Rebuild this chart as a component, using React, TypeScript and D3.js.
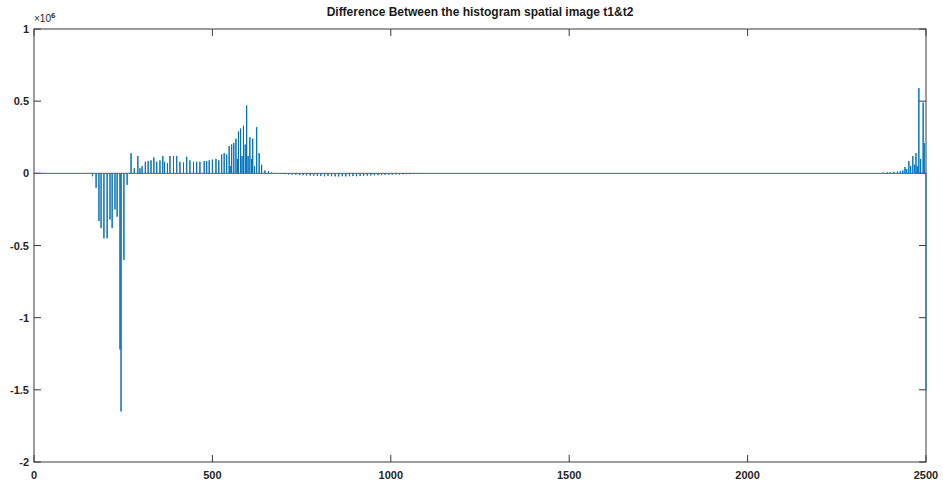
import React from "react";
import * as d3 from "d3";

const chartTitle = "Difference Between the histogram spatial image t1&t2";
const xTicks = [0, 500, 1000, 1500, 2000, 2500];
const xTickLabels = ["0", "500", "1000", "1500", "2000", "2500"];
const yTicks = [1, 0.5, 0, -0.5, -1, -1.5, -2];
const yTickLabels = ["1", "0.5", "0", "-0.5", "-1", "-1.5", "-2"];

// negative spikes in the low bins (values ×10^6)
const lowNegX = [164, 174, 182, 188, 196, 205, 213, 219, 227, 233, 241, 244, 252, 261];
const lowNegY = [-0.02, -0.1, -0.33, -0.38, -0.45, -0.45, -0.32, -0.38, -0.25, -0.3, -1.22, -1.65, -0.6, -0.08];

// positive spikes 270–670
const midPosX = [272, 281, 291, 297, 303, 312, 320, 328, 336, 344, 353, 361, 366, 374, 381, 391, 400, 409, 419, 428, 437, 447, 456, 465, 477, 484, 491, 500, 510, 518, 526, 533, 540, 547, 550, 554, 560, 566, 570, 573, 579, 583, 587, 592, 596, 600, 605, 610, 613, 618, 624, 631, 638, 647, 657, 666];
const midPosY = [0.14, 0.035, 0.12, 0.035, 0.05, 0.08, 0.085, 0.09, 0.11, 0.08, 0.09, 0.12, 0.08, 0.07, 0.12, 0.12, 0.12, 0.08, 0.075, 0.115, 0.09, 0.08, 0.08, 0.08, 0.085, 0.085, 0.09, 0.095, 0.1, 0.09, 0.13, 0.14, 0.13, 0.19, 0.05, 0.2, 0.21, 0.24, 0.1, 0.29, 0.31, 0.12, 0.33, 0.2, 0.47, 0.12, 0.25, 0.1, 0.24, 0.05, 0.32, 0.14, 0.06, 0.02, 0.015, 0.007];

// small negative spikes 690–1080
const dipX = [694, 704, 714, 724, 734, 744, 754, 764, 774, 784, 794, 804, 814, 824, 834, 844, 854, 864, 874, 884, 894, 904, 914, 924, 934, 944, 954, 964, 974, 984, 994, 1004, 1014, 1024, 1034, 1044, 1054, 1064, 1074, 1082];
const dipY = [-0.004, -0.006, -0.008, -0.009, -0.01, -0.012, -0.013, -0.014, -0.015, -0.016, -0.017, -0.018, -0.02, -0.018, -0.02, -0.021, -0.022, -0.02, -0.021, -0.02, -0.019, -0.02, -0.018, -0.017, -0.016, -0.015, -0.014, -0.013, -0.012, -0.011, -0.01, -0.009, -0.008, -0.008, -0.007, -0.006, -0.006, -0.005, -0.004, -0.004];

// spikes in the top bins
const highX = [2380, 2392, 2400, 2410, 2420, 2428, 2435, 2441, 2446, 2452, 2457, 2463, 2468, 2472, 2476, 2480, 2485, 2492, 2495, 2500];
const highY = [0.005, 0.007, 0.008, 0.01, 0.012, 0.015, 0.02, 0.044, 0.03, 0.085, 0.05, 0.12, 0.06, 0.14, 0.05, 0.59, 0.1, 0.49, 0.21, -1.5];

const W = 943;
const H = 483;
const L = 34;
const R = 926;
const T = 29;
const B = 462;
const AX = "#3a3a3a";
const LINE = "#0072BD";
const FONT = "'Liberation Sans', Arial, Helvetica, sans-serif";

export default function App() {
  const x = d3.scaleLinear().domain([0, 2500]).range([L, R]);
  const y = d3.scaleLinear().domain([-2, 1]).range([B, T]);

  const xs = [...lowNegX, ...midPosX, ...dipX, ...highX];
  const ys = [...lowNegY, ...midPosY, ...dipY, ...highY];
  const order = xs.map((_, i) => i).sort((a, b) => xs[a] - xs[b]);
  const seq: [number, number][] = [[0, 0]];
  order.forEach((i) => {
    seq.push([xs[i], 0], [xs[i], ys[i]], [xs[i], 0]);
  });
  // the series ends on its last value
  const seqFinal = seq.slice(0, seq.length - 1);
  const line = d3
    .line<[number, number]>()
    .x((d) => x(d[0]))
    .y((d) => y(d[1]));

  const tickLen = 7;

  return (
    <svg
      width={W}
      height={H}
      style={{ position: "absolute", left: 0, top: 0, background: "#fff" }}
      fontFamily={FONT}
    >
      <rect x={0} y={0} width={W} height={H} fill="#fff" />
      <text
        x={(L + R) / 2}
        y={16}
        textAnchor="middle"
        fontSize={12}
        fontWeight="bold"
        fill="#1a1a1a"
      >
        {chartTitle}
      </text>
      {/* box */}
      <rect x={L} y={T} width={R - L} height={B - T} fill="none" stroke={AX} strokeWidth={1} />
      {xTicks.map((t, i) => (
        <g key={"xt" + i}>
          <line x1={x(t)} x2={x(t)} y1={B} y2={B - tickLen} stroke={AX} />
          <line x1={x(t)} x2={x(t)} y1={T} y2={T + tickLen} stroke={AX} />
          <text x={x(t)} y={B + 17} textAnchor="middle" fontSize={11} fontWeight="bold" fill="#262626">
            {xTickLabels[i]}
          </text>
        </g>
      ))}
      {yTicks.map((t, i) => (
        <g key={"yt" + i}>
          <line x1={L} x2={L + tickLen} y1={y(t)} y2={y(t)} stroke={AX} />
          <line x1={R} x2={R - tickLen} y1={y(t)} y2={y(t)} stroke={AX} />
          <text x={L - 5} y={y(t) + 4} textAnchor="end" fontSize={11} fontWeight="bold" fill="#262626">
            {yTickLabels[i]}
          </text>
        </g>
      ))}
      <text x={L} y={T - 7} fontSize={10} fill="#262626">
        <tspan>×10</tspan>
        <tspan dy={-4} fontSize={8} fontWeight="bold">6</tspan>
      </text>
      {/* data */}
      <path d={line(seqFinal) || ""} fill="none" stroke={LINE} strokeWidth={1} />
    </svg>
  );
}
